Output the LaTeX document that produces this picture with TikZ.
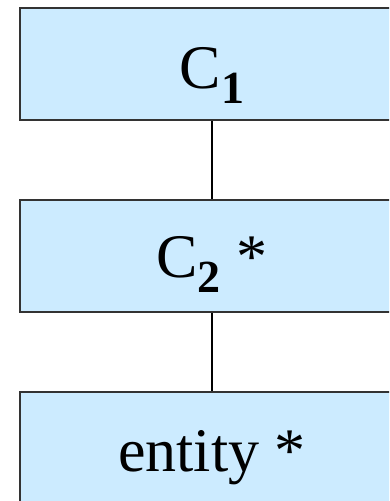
\documentclass[tikz,border=0pt]{standalone}
\usepackage{fontspec}
\setmainfont{Liberation Serif}
\definecolor{boxfill}{HTML}{CCEBFF}
\definecolor{boxline}{HTML}{333333}
\newcommand{\sub}[1]{\raisebox{-15pt}{\fontsize{46}{46}\selectfont\bfseries #1}}
\tikzset{
  box/.style={draw=boxline, line width=1.5pt, fill=boxfill, rectangle,
    minimum width=384pt, minimum height=112pt, inner sep=0pt},
  lbl/.style={anchor=base, inner sep=0pt, font=\fontsize{62}{66}\selectfont},
  link/.style={draw=black, line width=2pt}
}
\begin{document}
\begin{tikzpicture}[x=1pt,y=-1pt]
\useasboundingbox (0,0) rectangle (389,501);
\begin{scope}
\clip (0,0) rectangle (389,501);
\node[box] (b1) at (212,64) {};
\node[box] (b2) at (212,256) {};
\node[box] (b3) at (212,448) {};
\path[link] (b1.south) -- (b2.north);
\path[link] (b2.south) -- (b3.north);
\node[lbl] (t1) at (212,88) {C\sub{1}};
\node[lbl] (t2) at (212,277) {C\sub{2} *};
\node[lbl] (t3) at (212,471) {entity *};
\end{scope}
\end{tikzpicture}
\end{document}
